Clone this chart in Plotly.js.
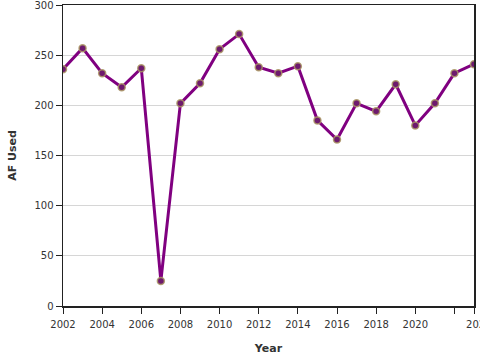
<!DOCTYPE html>
<html>
<head>
<meta charset="utf-8">
<script src="https://cdn.plot.ly/plotly-3.0.1.min.js"></script>
<style>html,body{margin:0;padding:0;background:#fff;}#chart{width:480px;height:360px;}</style>
</head>
<body>
<div id="chart"></div>
<script>
const years = [2002,2003,2004,2005,2006,2007,2008,2009,2010,2011,2012,2013,2014,2015,2016,2017,2018,2019,2020,2021,2022,2023];
const afUsed = [236,257,232,218,237,25,202,222,256,271,238,232,239,185,166,202,194,221,180,202,232,241];
const xTickVals = [2002,2004,2006,2008,2010,2012,2014,2016,2018,2020,2022,2023];
const xTickText = ["2002","2004","2006","2008","2010","2012","2014","2016","2018","2020","","\u00a0\u00a0\u00a02023"];
const yTickVals = [0,50,100,150,200,250,300];

Plotly.newPlot('chart', [{
  x: years, y: afUsed, type: 'scatter', mode: 'lines+markers',
  line: {color: '#800080', width: 3},
  marker: {color: '#6e1a6e', size: 7, line: {color: 'rgba(170,150,100,0.85)', width: 1.5}},
  hoverinfo: 'x+y'
}], {
  width: 480, height: 360,
  margin: {l: 63, r: 6, t: 5, b: 54},
  paper_bgcolor: '#fff', plot_bgcolor: '#fff',
  font: {family: 'DejaVu Sans', color: '#333', size: 10},
  showlegend: false,
  xaxis: {
    range: [2002, 2023], tickvals: xTickVals, ticktext: xTickText,
    ticks: 'outside', ticklen: 6, tickcolor: '#222', tickwidth: 1,
    ticklabeloverflow: 'allow', ticklabelstandoff: 2,
    showline: true, linecolor: '#222', linewidth: 1.5, mirror: true,
    showgrid: false, zeroline: false,
    title: {text: '<b>Year</b>', font: {size: 11, family: 'DejaVu Sans'}, standoff: 16}
  },
  yaxis: {
    range: [0, 300], tickvals: yTickVals,
    ticks: 'outside', ticklen: 6, tickcolor: '#222', tickwidth: 1,
    ticklabeloverflow: 'allow',
    showline: true, linecolor: '#222', linewidth: 1.5, mirror: true,
    showgrid: true, gridcolor: '#d6d6d6', gridwidth: 1, zeroline: false,
    title: {text: '<b>AF Used</b>', font: {size: 11, family: 'DejaVu Sans'}, standoff: 15}
  }
}, {displayModeBar: false, staticPlot: true});
</script>
</body>
</html>
